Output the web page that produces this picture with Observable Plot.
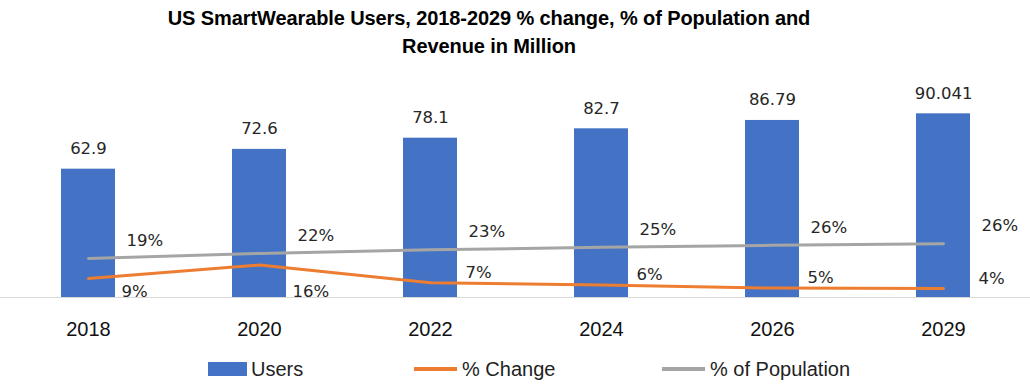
<!DOCTYPE html>
<html>
<head>
<meta charset="utf-8">
<script src="https://cdn.jsdelivr.net/npm/d3@7"></script>
<script src="https://cdn.jsdelivr.net/npm/@observablehq/plot@0.6"></script>
<style>
  html, body { margin: 0; padding: 0; background: #fff; }
  #wrap { position: relative; width: 1030px; height: 391px; overflow: hidden; }
  #title { position: absolute; top: 4px; left: 0; width: 978px; text-align: center;
    font: bold 20px "Liberation Sans", Arial, sans-serif; line-height: 28px; color: #000; letter-spacing: -0.1px; }
  #chart { position: absolute; top: 62px; left: 0; }
  .leg { position: absolute; font: 20px "Liberation Sans", Arial, sans-serif; color: #222; line-height: 20px; }
  .sw { position: absolute; }
</style>
</head>
<body>
<div id="wrap">
  <div id="title">US SmartWearable Users, 2018-2029 % change, % of Population and<br>Revenue in Million</div>
  <div id="chart"></div>
  <div id="legend"></div>
</div>
<script>
const years = ["2018", "2020", "2022", "2024", "2026", "2029"];
const users = [62.9, 72.6, 78.1, 82.7, 86.79, 90.041];
const userLabels = ["62.9", "72.6", "78.1", "82.7", "86.79", "90.041"];
const pctChange = [9.3, 15.9, 7.2, 6.1, 4.6, 4.4];
const pctPopulation = [19.1, 21.6, 23.4, 24.6, 25.6, 26.4];
const seriesNames = ["Users", "% Change", "% of Population"];
const seriesColors = ["#4472C4", "#ED7D31", "#A5A5A5"];

const rows = years.map((year, i) => ({
  year,
  users: users[i],
  userLabel: userLabels[i],
  change: pctChange[i],
  population: pctPopulation[i],
  changeLabel: Math.round(pctChange[i]) + "%",
  popLabel: Math.round(pctPopulation[i]) + "%",
  idx: i
}));

const labelFont = "DejaVu Sans, sans-serif";
const labelColor = "#262626";

const chart = Plot.plot({
  width: 1030,
  height: 290,
  marginTop: 31,
  marginBottom: 55,
  marginLeft: 0,
  marginRight: 0,
  x: { type: "band", domain: years, paddingInner: 0.685, paddingOuter: 0.3425, align: 0.5, label: null },
  y: { domain: [0, 100], axis: null },
  style: { background: "#fff", fontFamily: "Liberation Sans, Arial, sans-serif", color: "#000" },
  marks: [
    Plot.barY(rows, { x: "year", y: "users", fill: seriesColors[0] }),
    Plot.ruleY([0], { stroke: "#D9D9D9", strokeWidth: 1 }),
    Plot.lineY(rows, { x: "year", y: "population", stroke: seriesColors[2], strokeWidth: 3, strokeLinecap: "round" }),
    Plot.lineY(rows, { x: "year", y: "change", stroke: seriesColors[1], strokeWidth: 3, strokeLinecap: "round" }),
    Plot.text(rows, { x: "year", y: "users", text: "userLabel", dy: -20.5, fontSize: 16.5, fontFamily: labelFont, fill: labelColor }),
    Plot.text(rows, { x: "year", y: "population", text: "popLabel", dx: 38, dy: -18, textAnchor: "start", fontSize: 16.5, fontFamily: labelFont, fill: labelColor }),
    Plot.text(rows.filter(d => d.idx < 2), { x: "year", y: 0, text: "changeLabel", dx: 33, dy: -6, textAnchor: "start", fontSize: 16.5, fontFamily: labelFont, fill: labelColor }),
    Plot.text(rows.filter(d => d.idx >= 2), { x: "year", y: "change", text: "changeLabel", dx: 35, dy: -10, textAnchor: "start", fontSize: 16.5, fontFamily: labelFont, fill: labelColor }),
    Plot.axisX({ tickSize: 0, tickPadding: 24, fontSize: 20, label: null, fill: "#111" })
  ]
});
document.getElementById("chart").appendChild(chart);

// Legend
const legend = document.getElementById("legend");
const legendItems = [
  { name: seriesNames[0], color: seriesColors[0], kind: "box", sx: 208, tx: 251 },
  { name: seriesNames[1], color: seriesColors[1], kind: "line", sx: 414, tx: 462 },
  { name: seriesNames[2], color: seriesColors[2], kind: "line", sx: 662, tx: 710 }
];
for (const it of legendItems) {
  const sw = document.createElement("div");
  sw.className = "sw";
  if (it.kind === "box") {
    Object.assign(sw.style, { left: it.sx + "px", top: "362px", width: "39px", height: "14px", background: it.color });
  } else {
    Object.assign(sw.style, { left: it.sx + "px", top: "367px", width: "43px", height: "4px", background: it.color });
  }
  legend.appendChild(sw);
  const t = document.createElement("div");
  t.className = "leg";
  t.textContent = it.name;
  Object.assign(t.style, { left: it.tx + "px", top: "359px" });
  legend.appendChild(t);
}
</script>
</body>
</html>
